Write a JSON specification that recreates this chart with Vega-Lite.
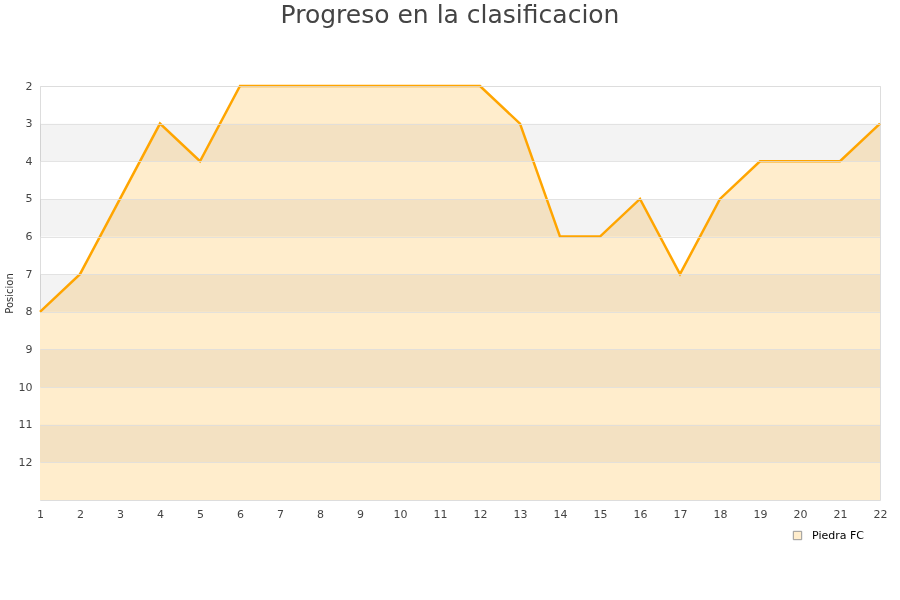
{
  "$schema": "https://vega.github.io/schema/vega-lite/v6.json",
  "width": 840,
  "height": 414,
  "autosize": "none",
  "padding": {"left": 40, "top": 86, "right": 20, "bottom": 100},
  "background": "white",
  "title": {
    "text": "Progreso en la clasificacion",
    "font": "DejaVu Sans",
    "fontSize": 25,
    "fontWeight": "normal",
    "color": "#444444",
    "anchor": "middle",
    "offset": 52,
    "dx": -10
  },
  "config": {
    "view": {"stroke": "#dddddd"},
    "axis": {"labelFont": "DejaVu Sans", "labelFontSize": 11, "labelColor": "#444444", "titleFont": "DejaVu Sans"},
    "axisX": {"labelOverlap": false, "labelFlush": false, "tickCount": 22}
  },
  "datasets": {
    "serie": [
      {"jornada": 1, "posicion": 8, "equipo": "Piedra FC"},
      {"jornada": 2, "posicion": 7, "equipo": "Piedra FC"},
      {"jornada": 3, "posicion": 5, "equipo": "Piedra FC"},
      {"jornada": 4, "posicion": 3, "equipo": "Piedra FC"},
      {"jornada": 5, "posicion": 4, "equipo": "Piedra FC"},
      {"jornada": 6, "posicion": 2, "equipo": "Piedra FC"},
      {"jornada": 7, "posicion": 2, "equipo": "Piedra FC"},
      {"jornada": 8, "posicion": 2, "equipo": "Piedra FC"},
      {"jornada": 9, "posicion": 2, "equipo": "Piedra FC"},
      {"jornada": 10, "posicion": 2, "equipo": "Piedra FC"},
      {"jornada": 11, "posicion": 2, "equipo": "Piedra FC"},
      {"jornada": 12, "posicion": 2, "equipo": "Piedra FC"},
      {"jornada": 13, "posicion": 3, "equipo": "Piedra FC"},
      {"jornada": 14, "posicion": 6, "equipo": "Piedra FC"},
      {"jornada": 15, "posicion": 6, "equipo": "Piedra FC"},
      {"jornada": 16, "posicion": 5, "equipo": "Piedra FC"},
      {"jornada": 17, "posicion": 7, "equipo": "Piedra FC"},
      {"jornada": 18, "posicion": 5, "equipo": "Piedra FC"},
      {"jornada": 19, "posicion": 4, "equipo": "Piedra FC"},
      {"jornada": 20, "posicion": 4, "equipo": "Piedra FC"},
      {"jornada": 21, "posicion": 4, "equipo": "Piedra FC"},
      {"jornada": 22, "posicion": 3, "equipo": "Piedra FC"}
    ],
    "bandas": [
      {"desde": 3, "hasta": 4},
      {"desde": 5, "hasta": 6},
      {"desde": 7, "hasta": 8},
      {"desde": 9, "hasta": 10},
      {"desde": 11, "hasta": 12}
    ]
  },
  "layer": [
    {
      "data": {"name": "serie"},
      "mark": {"type": "area", "opacity": 1, "line": false},
      "encoding": {
        "x": {
          "field": "jornada", "type": "quantitative",
          "scale": {"domain": [1, 22], "nice": false, "zero": false},
          "axis": {"values": [1,2,3,4,5,6,7,8,9,10,11,12,13,14,15,16,17,18,19,20,21,22], "title": null, "domain": false, "ticks": false, "grid": false, "labelPadding": 8, "labelFlush": false, "labelOverlap": false, "labelBound": false}
        },
        "y": {
          "field": "posicion", "type": "quantitative",
          "scale": {"domain": [2, 13], "reverse": true, "nice": false, "zero": false},
          "axis": {"values": [2,3,4,5,6,7,8,9,10,11,12], "title": "Posicion", "titleFontSize": 10, "titleFontWeight": "normal", "titleColor": "#333333", "titlePadding": 4, "domain": false, "ticks": false, "grid": true, "gridColor": "#dddddd", "gridOpacity": 0.8, "labelPadding": 8, "zindex": 1}
        },
        "y2": {"datum": 13},
        "color": {
          "field": "equipo", "type": "nominal",
          "scale": {"range": ["#ffedcc"]},
          "legend": {
            "title": null,
            "orient": "none",
            "legendX": 752,
            "legendY": 444,
            "symbolType": "square",
            "symbolSize": 70,
            "symbolStrokeColor": "#999999",
            "symbolStrokeWidth": 1,
            "labelOffset": 9,
            "labelFont": "DejaVu Sans",
            "labelFontSize": 11,
            "labelColor": "#000000"
          }
        }
      }
    },
    {
      "data": {"name": "bandas"},
      "mark": {"type": "rect", "fill": "#f3f3f3", "blend": "multiply"},
      "encoding": {
        "y": {"field": "desde", "type": "quantitative"},
        "y2": {"field": "hasta"}
      }
    },
    {
      "data": {"name": "serie"},
      "mark": {"type": "line", "stroke": "#ffa500", "strokeWidth": 2.5},
      "encoding": {
        "x": {"field": "jornada", "type": "quantitative"},
        "y": {"field": "posicion", "type": "quantitative"}
      }
    }
  ]
}
